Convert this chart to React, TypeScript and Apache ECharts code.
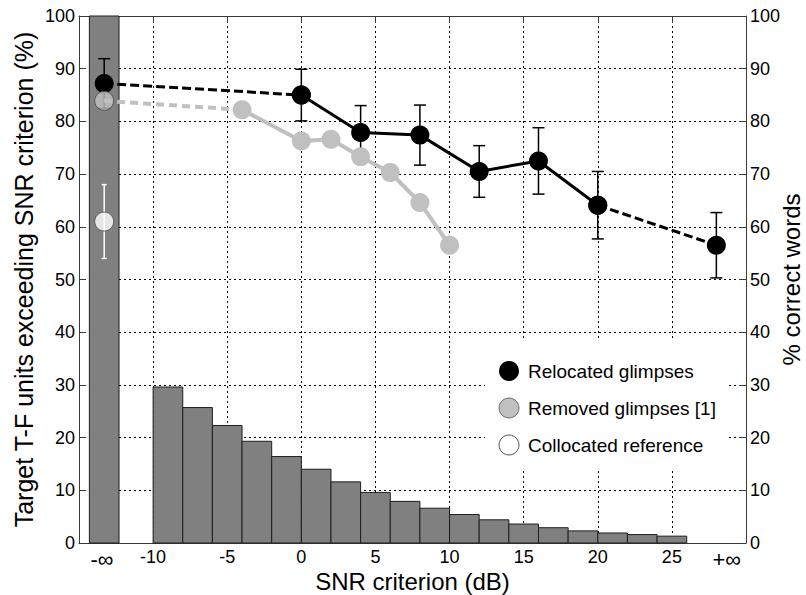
import React, { useEffect, useRef } from 'react';
import * as echarts from 'echarts';

// ---- data ----
// plotting positions used for the -inf / +inf conditions on the dB axis
const NEG_INF_X = -13.3;
const POS_INF_X = 28;
const negInfBin = [-14.3, -12.3];
const negInfPct = 100;

// histogram of target T-F units exceeding criterion (2 dB bins)
const binStart = [-10, -8, -6, -4, -2, 0, 2, 4, 6, 8, 10, 12, 14, 16, 18, 20, 22, 24];
const binWidth = 2;
const histPct = [29.6, 25.7, 22.3, 19.3, 16.4, 14.0, 11.6, 9.6, 7.9, 6.6, 5.4, 4.4, 3.6, 2.9, 2.3, 1.9, 1.6, 1.3];

// relocated glimpses (% correct words) with error bars
const relocatedSnr = [NEG_INF_X, 0, 4, 8, 12, 16, 20, POS_INF_X];
const relocatedScore = [87.2, 85.0, 77.9, 77.4, 70.5, 72.5, 64.1, 56.5];
const relocatedErr = [4.7, 4.9, 5.1, 5.7, 4.9, 6.3, 6.4, 6.2];

// removed glimpses [1]
const removedSnr = [NEG_INF_X, -4, 0, 2, 4, 6, 8, 10];
const removedScore = [83.9, 82.2, 76.3, 76.6, 73.3, 70.3, 64.6, 56.5];

// collocated reference
const collocatedSnr = [NEG_INF_X];
const collocatedScore = [61.0];
const collocatedErr = [7.0];

// axis labels
const infLabelX = [-13.45, 28.7];
const infLabelText = ['-\u221E', '+\u221E'];
const yTitleLeft = 'Target T-F units exceeding SNR criterion (%)';
const yTitleRight = '% correct words';
const xTitle = 'SNR criterion (dB)';
const legendNames = ['Relocated glimpses', 'Removed glimpses [1]', 'Collocated reference'];

const FONT = 'Liberation Sans, Arial, Helvetica, sans-serif';
const AXIS_COLOR = '#3a3a3a';
const GREY = '#c0c0c0';

export default function App() {
  const ref = useRef<HTMLDivElement>(null);

  useEffect(() => {
    if (!ref.current) return;
    const chart = echarts.init(ref.current, undefined, { renderer: 'svg' });

    const histData: number[][] = [[negInfBin[0], negInfBin[1], negInfPct]];
    binStart.forEach((s, i) => histData.push([s, s + binWidth, histPct[i]]));

    const relPts = relocatedSnr.map((x, i) => [x, relocatedScore[i]]);
    const relErrData = relocatedSnr.map((x, i) => [x, relocatedScore[i], relocatedErr[i]]);
    const remPts = removedSnr.map((x, i) => [x, removedScore[i]]);
    const colPts = collocatedSnr.map((x, i) => [x, collocatedScore[i]]);
    const colErrData = collocatedSnr.map((x, i) => [x, collocatedScore[i], collocatedErr[i]]);

    const errRender = (color: string, cap: number, lw: number) => (params: any, api: any) => {
      const x = api.value(0);
      const y = api.value(1);
      const e = api.value(2);
      const top = api.coord([x, y + e]);
      const bot = api.coord([x, y - e]);
      const st = { stroke: color, lineWidth: lw };
      return {
        type: 'group',
        children: [
          { type: 'line', shape: { x1: top[0], y1: top[1], x2: bot[0], y2: bot[1] }, style: st },
          { type: 'line', shape: { x1: top[0] - cap, y1: top[1], x2: top[0] + cap, y2: top[1] }, style: st },
          { type: 'line', shape: { x1: bot[0] - cap, y1: bot[1], x2: bot[0] + cap, y2: bot[1] }, style: st },
        ],
      };
    };

    const gridLeft = 79;
    const gridRight = 60;
    const gridTop = 16;
    const gridBottom = 52;
    const plotCx = (gridLeft + (806 - gridRight)) / 2;
    const plotCy = (gridTop + (595 - gridBottom)) / 2;

    const tickLabel = { color: '#000', fontSize: 18, fontFamily: FONT };

    const option: any = {
      animation: false,
      backgroundColor: '#fff',
      grid: { left: gridLeft, right: gridRight, top: gridTop, bottom: gridBottom, containLabel: false },
      xAxis: [
        {
          type: 'value',
          min: -15,
          max: 30,
          interval: 5,
          position: 'bottom',
          axisLine: { show: true, onZero: false, lineStyle: { color: AXIS_COLOR, width: 1 } },
          axisTick: { show: true, inside: true, length: 7, lineStyle: { color: AXIS_COLOR } },
          axisLabel: {
            ...tickLabel,
            margin: 5,
            formatter: (v: number) => (v === -15 || v === 30 ? '' : String(v)),
          },
          splitLine: { show: true, lineStyle: { color: '#000', type: [2, 3], width: 1 } },
        },
        {
          type: 'value',
          min: -15,
          max: 30,
          interval: 5,
          position: 'top',
          axisLine: { show: true, onZero: false, lineStyle: { color: AXIS_COLOR, width: 1 } },
          axisTick: { show: true, inside: true, length: 7, lineStyle: { color: AXIS_COLOR } },
          axisLabel: { show: false },
          splitLine: { show: false },
        },
      ],
      yAxis: [
        {
          type: 'value',
          min: 0,
          max: 100,
          interval: 10,
          position: 'left',
          axisLine: { show: true, onZero: false, lineStyle: { color: AXIS_COLOR, width: 1 } },
          axisTick: { show: true, inside: true, length: 7, lineStyle: { color: AXIS_COLOR } },
          axisLabel: { ...tickLabel, margin: 4 },
          splitLine: { show: true, lineStyle: { color: '#000', type: [2, 3], width: 1 } },
        },
        {
          type: 'value',
          min: 0,
          max: 100,
          interval: 10,
          position: 'right',
          axisLine: { show: true, onZero: false, lineStyle: { color: AXIS_COLOR, width: 1 } },
          axisTick: { show: true, inside: true, length: 7, lineStyle: { color: AXIS_COLOR } },
          axisLabel: { ...tickLabel, margin: 4 },
          splitLine: { show: false },
        },
      ],
      graphic: [
        {
          type: 'rect',
          z: 1,
          shape: { x: 485, y: 340, width: 242, height: 130 },
          style: { fill: '#fff' },
        },
        { type: 'circle', z: 10, shape: { cx: 509, cy: 371, r: 10 }, style: { fill: '#000' } },
        { type: 'circle', z: 10, shape: { cx: 509, cy: 408, r: 10 }, style: { fill: GREY, stroke: '#6e6e6e', lineWidth: 1 } },
        { type: 'circle', z: 10, shape: { cx: 509, cy: 445, r: 10 }, style: { fill: '#fff', stroke: '#555', lineWidth: 1 } },
        ...legendNames.map((n, i) => ({
          type: 'text',
          z: 10,
          x: 528,
          y: 371 + i * 37,
          style: { text: n, fontSize: 19, fontFamily: FONT, fill: '#000', textVerticalAlign: 'middle', textAlign: 'left' },
        })),
        {
          type: 'text',
          z: 10,
          x: 24,
          y: plotCy,
          rotation: Math.PI / 2,
          style: { text: yTitleLeft, fontSize: 25, fontFamily: FONT, fill: '#000', textAlign: 'center', textVerticalAlign: 'middle' },
        },
        {
          type: 'text',
          z: 10,
          x: 791,
          y: plotCy,
          rotation: Math.PI / 2,
          style: { text: yTitleRight, fontSize: 24, fontFamily: FONT, fill: '#000', textAlign: 'center', textVerticalAlign: 'middle' },
        },
        {
          type: 'text',
          z: 10,
          x: plotCx,
          y: 581,
          style: { text: xTitle, fontSize: 24, fontFamily: FONT, fill: '#000', textAlign: 'center', textVerticalAlign: 'middle' },
        },
      ],
      series: [
        {
          name: 'histogram',
          type: 'custom',
          z: 1,
          clip: false,
          encode: { x: [0, 1], y: 2 },
          data: histData,
          renderItem: (params: any, api: any) => {
            const p0 = api.coord([api.value(0), 0]);
            const p1 = api.coord([api.value(1), api.value(2)]);
            return {
              type: 'rect',
              shape: { x: p0[0], y: p1[1], width: p1[0] - p0[0], height: p0[1] - p1[1] },
              style: { fill: '#808080', stroke: '#1e1e1e', lineWidth: 1 },
            };
          },
        },
        {
          name: 'relocated error',
          type: 'custom',
          z: 2,
          clip: false,
          encode: { x: 0, y: 1 },
          data: relErrData,
          renderItem: errRender('#000', 6, 1.5),
        },
        {
          name: 'removed dashed',
          type: 'line',
          z: 3,
          data: remPts.slice(0, 2),
          showSymbol: false,
          symbol: 'none',
          lineStyle: { color: GREY, width: 4, type: [8, 5] },
        },
        {
          name: legendNames[1],
          type: 'line',
          z: 3,
          data: remPts.slice(1),
          symbol: 'circle',
          symbolSize: 19,
          itemStyle: { color: GREY },
          lineStyle: { color: GREY, width: 4 },
        },
        {
          name: 'relocated dashed a',
          type: 'line',
          z: 4,
          data: relPts.slice(0, 2),
          symbol: 'circle',
          symbolSize: 19,
          itemStyle: { color: '#000' },
          lineStyle: { color: '#000', width: 3, type: [9, 4] },
        },
        {
          name: 'relocated dashed b',
          type: 'line',
          z: 4,
          data: relPts.slice(6),
          symbol: 'circle',
          symbolSize: 19,
          itemStyle: { color: '#000' },
          lineStyle: { color: '#000', width: 3, type: [9, 4] },
        },
        {
          name: legendNames[0],
          type: 'line',
          z: 4,
          data: relPts.slice(1, 7),
          symbol: 'circle',
          symbolSize: 19,
          itemStyle: { color: '#000' },
          lineStyle: { color: '#000', width: 3 },
        },
        {
          name: 'removed -inf',
          type: 'scatter',
          z: 5,
          data: remPts.slice(0, 1),
          symbol: 'circle',
          symbolSize: 19,
          itemStyle: { color: GREY, borderColor: '#4a4a4a', borderWidth: 1 },
        },
        {
          name: 'collocated error',
          type: 'custom',
          z: 6,
          clip: false,
          encode: { x: 0, y: 1 },
          data: colErrData,
          renderItem: errRender('#fff', 2.5, 1.5),
        },
        {
          name: legendNames[2],
          type: 'scatter',
          z: 7,
          data: colPts,
          symbol: 'circle',
          symbolSize: 19,
          itemStyle: { color: '#fff', borderColor: '#4a4a4a', borderWidth: 1 },
        },
        {
          name: 'inf labels',
          type: 'custom',
          z: 8,
          clip: false,
          encode: { x: 0 },
          data: infLabelX.map((x, i) => [x, i]),
          renderItem: (params: any, api: any) => {
            const p = api.coord([api.value(0), 0]);
            return {
              type: 'text',
              x: p[0],
              y: p[1] + 5,
              style: {
                text: infLabelText[api.value(1)],
                fontSize: 22,
                fontFamily: FONT,
                fill: '#000',
                textAlign: 'center',
                textVerticalAlign: 'top',
              },
            };
          },
        },
      ],
    };

    chart.setOption(option);
    return () => {
      chart.dispose();
    };
  }, []);

  return (
    <div
      ref={ref}
      style={{ position: 'fixed', left: 0, top: 0, width: 806, height: 595, background: '#fff' }}
    />
  );
}
